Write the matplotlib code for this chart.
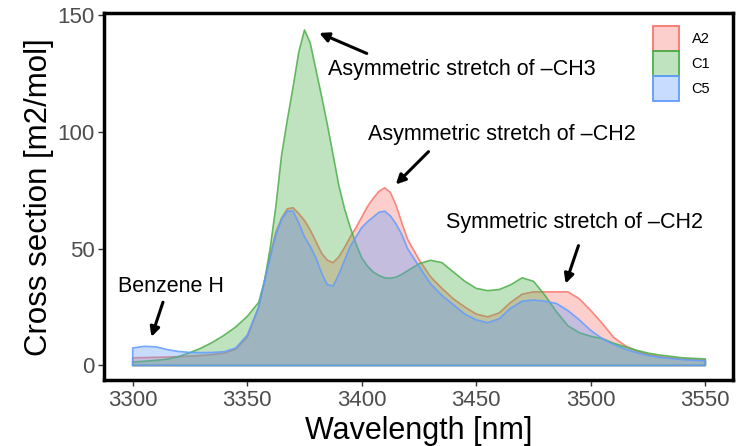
import matplotlib
matplotlib.use("Agg")
import matplotlib.pyplot as plt
from matplotlib.patches import Patch
from matplotlib.colors import to_rgba

plt.rcParams['font.family'] = ['Liberation Sans', 'DejaVu Sans']

# wavelength grid [nm]
wl = [3300, 3305, 3310, 3315, 3320, 3325, 3330, 3335, 3340, 3345, 3350, 3355,
      3357.5, 3360, 3362.5, 3365, 3367.5, 3370, 3372.5, 3375, 3377.5, 3380,
      3382.5, 3385, 3387.5, 3390, 3392.5, 3395, 3397.5, 3400, 3402.5, 3405,
      3407.5, 3410, 3412.5, 3415, 3417.5, 3420, 3425, 3430, 3435, 3440, 3445,
      3450, 3455, 3460, 3465, 3470, 3475, 3480, 3485, 3490, 3495, 3500, 3505,
      3510, 3515, 3520, 3525, 3530, 3540, 3550]

a2 = [3.3, 3.4, 3.5, 3.6, 3.8, 4.0, 4.3, 4.7, 5.3, 7.0, 12, 25,
      36, 47, 57, 63, 67, 67.5, 65, 62, 58, 53,
      48, 45, 44, 46.5, 50.5, 55, 59, 63.5, 68, 71.5,
      74.5, 76, 74, 68.5, 61, 54, 45.3, 38, 33, 28.5, 25,
      22, 20.8, 22.5, 27, 30.5, 31.5, 31.5, 31.5, 31.5, 28.5, 23.5, 18,
      12, 8.5, 6.2, 4.8, 3.8, 2.8, 2.3]

c1 = [1.5, 1.8, 2.2, 2.7, 3.8, 5.5, 7.5, 10, 13, 16.5, 21, 27,
      36, 50, 68, 90, 105, 119, 134, 143.5, 138, 126.5,
      115, 103, 90, 77, 67, 59, 52, 46, 42.5, 40,
      38.5, 37.5, 37.3, 37.8, 39, 40.5, 43.5, 45, 44, 40, 36,
      33, 32, 32.5, 34.5, 37.5, 36, 30, 23, 17, 14, 12.5, 11.5,
      9.5, 8, 6.5, 5.3, 4.5, 3.3, 2.8]

c5 = [7.5, 8.2, 8.0, 6.8, 6.0, 5.6, 5.5, 5.6, 5.9, 7.5, 13, 25,
      36, 46, 56, 62.5, 66, 66, 61, 55, 51, 46,
      39.5, 34.5, 34, 39, 45, 51, 55, 59, 61.5, 63.5,
      65.5, 66, 64, 60.5, 56, 50, 42.4, 35, 30, 26, 22,
      19.5, 18.3, 20, 24.5, 27.5, 28, 27.5, 26.5, 23.5, 19.5, 15, 11.5,
      9, 7, 5.5, 4.3, 3.5, 2.5, 2.0]

series = [('A2', a2, '#F8766D'), ('C1', c1, '#4DAF4A'), ('C5', c5, '#619CFF')]

fig = plt.figure(figsize=(7.38, 4.46), dpi=100)
ax = fig.add_axes([0.141, 0.148, 0.852, 0.822])

for name, vals, col in series:
    ax.fill_between(wl, 0, vals, facecolor=col, alpha=0.35, lw=0)
    ax.fill_between(wl, 0, vals, facecolor='none', edgecolor=col, lw=1.2, alpha=0.85)

ax.set_xlim(3287.5, 3562)
ax.set_ylim(-6.2, 150.6)
ax.set_xticks([3300, 3350, 3400, 3450, 3500, 3550])
ax.set_yticks([0, 50, 100, 150])
ax.tick_params(direction='out', length=4, width=1, color='#333333',
               labelcolor='#4D4D4D', labelsize=16, pad=3)
for s in ax.spines.values():
    s.set_linewidth(2.5)
    s.set_color('black')

ax.set_xlabel('Wavelength [nm]', fontsize=22, labelpad=4)
ax.set_ylabel('Cross section [m2/mol]', fontsize=22.5, labelpad=2)

arrow = dict(arrowstyle='-|>', lw=2.2, color='black', mutation_scale=14)
ax.annotate('', xy=(3380.3, 142.7), xytext=(3403.3, 133), arrowprops=arrow)
ax.text(3443.7, 126.5, 'Asymmetric stretch of \u2013CH3', fontsize=15.5,
        ha='center', va='center')
ax.annotate('', xy=(3414, 76.6), xytext=(3430, 92.3), arrowprops=arrow)
ax.text(3461, 98.7, 'Asymmetric stretch of \u2013CH2', fontsize=15.5,
        ha='center', va='center')
ax.annotate('', xy=(3488.6, 33.9), xytext=(3495, 52.4), arrowprops=arrow)
ax.text(3493, 61, 'Symmetric stretch of \u2013CH2', fontsize=15.5,
        ha='center', va='center')
ax.annotate('', xy=(3307.8, 11.1), xytext=(3313.6, 28.2), arrowprops=arrow)
ax.text(3316.5, 33.8, 'Benzene H', fontsize=15.5, ha='center', va='center')

handles = [Patch(facecolor=to_rgba(col, 0.35), edgecolor=col, lw=1.3)
           for _, _, col in series]
ax.legend(handles, [n for n, _, _ in series], loc='upper left',
          bbox_to_anchor=(0.873, 0.966), frameon=False, fontsize=10.5,
          handlelength=1.75, handleheight=2.25, labelspacing=0.0,
          handletextpad=0.9, borderpad=0, borderaxespad=0)

fig.savefig('out.png', dpi=100)
